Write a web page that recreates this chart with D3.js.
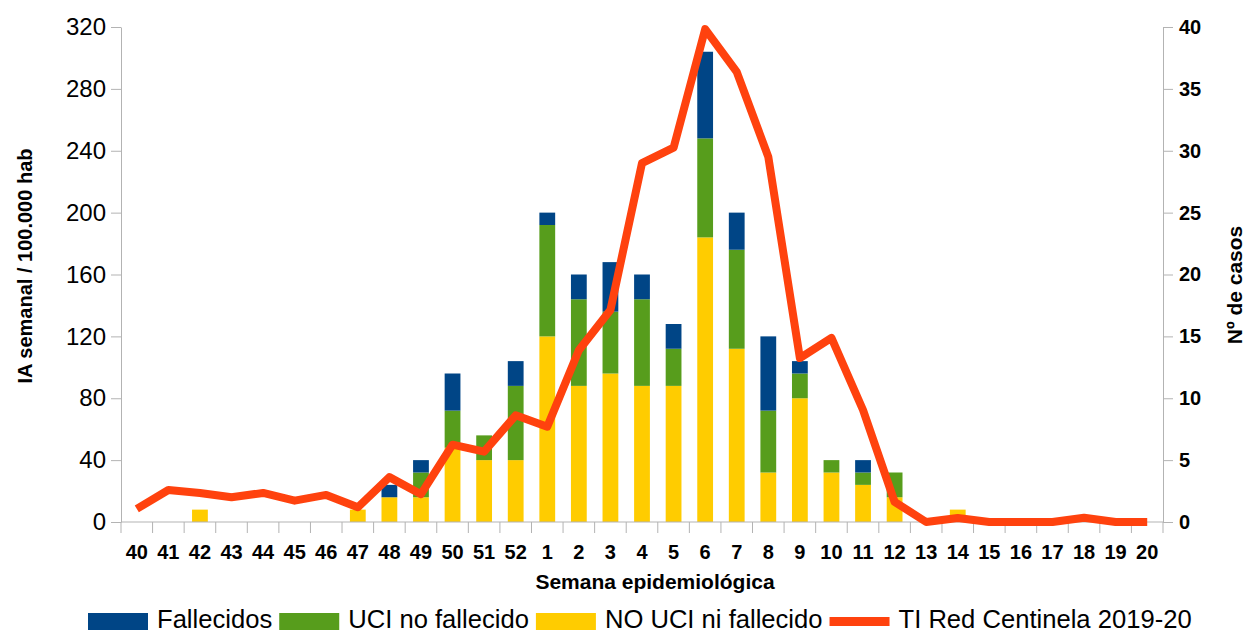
<!DOCTYPE html>
<html>
<head>
<meta charset="utf-8">
<script src="https://cdn.jsdelivr.net/npm/d3@7"></script>
<style>
  body { margin: 0; background: #fff; }
  text { font-family: "Liberation Sans", Arial, sans-serif; }
</style>
</head>
<body>
<svg id="chart" width="1248" height="631"></svg>
<script>
  var semanas = ["40","41","42","43","44","45","46","47","48","49","50","51","52",
    "1","2","3","4","5","6","7","8","9","10","11","12","13","14","15","16","17","18","19","20"];

  // casos (eje derecho)
  var noUci =      [0,0,1,0,0,0,0,1,2,2,6,5,5,15,11,12,11,11,23,14,4,10,4,3,2,0,1,0,0,0,0,0,0];
  var uci =        [0,0,0,0,0,0,0,0,0,2,3,2,6,9,7,5,7,3,8,8,5,2,1,1,2,0,0,0,0,0,0,0,0];
  var fallecidos = [0,0,0,0,0,0,0,0,1,1,3,0,2,1,2,4,2,2,7,3,6,1,0,1,0,0,0,0,0,0,0,0,0];

  // tasa de incidencia (eje izquierdo)
  var tasaIA = [8.5,20.7,18.8,16,18.8,13.8,17.5,9.5,29,18,50,45.5,69,61.6,111,137,232,242,
    318.6,291,236,106,119,72.4,13,0,2.6,0,0,0,2.8,0,0];

  var ticksIzq = [0,40,80,120,160,200,240,280,320];
  var ticksDer = [0,5,10,15,20,25,30,35,40];

  var series = [
    { key: "fallecidos", name: "Fallecidos", color: "#004586" },
    { key: "uci", name: "UCI no fallecido", color: "#579d1c" },
    { key: "noUci", name: "NO UCI ni fallecido", color: "#ffcc00" }
  ];
  var lineColor = "#ff420e";

  var svg = d3.select("#chart"),
    plotLeft = 121, plotRight = 1163, plotTop = 27, plotBottom = 522;

  var x = d3.scaleBand().domain(semanas).range([plotLeft, plotRight])
    .paddingInner(0.5).paddingOuter(0.25);
  var yL = d3.scaleLinear().domain([0, 320]).range([plotBottom, plotTop]);
  var yR = d3.scaleLinear().domain([0, 40]).range([plotBottom, plotTop]);

  var rows = semanas.map(function (s, i) {
    return { semana: s, noUci: noUci[i], uci: uci[i], fallecidos: fallecidos[i] };
  });
  var stacked = d3.stack().keys(["noUci", "uci", "fallecidos"])(rows);
  var colorOf = {};
  series.forEach(function (s) { colorOf[s.key] = s.color; });

  // bars
  svg.append("g")
    .selectAll("g")
    .data(stacked)
    .enter()
    .append("g")
    .style("fill", function (d) { return colorOf[d.key]; })
    .selectAll("rect")
    .data(function (d) { return d; })
    .enter()
    .append("rect")
    .attr("x", function (d) { return x(d.data.semana); })
    .attr("width", x.bandwidth())
    .attr("y", function (d) { return yR(d[1]); })
    .attr("height", function (d) { return yR(d[0]) - yR(d[1]); });

  // axes
  var axisColor = "#b3b3b3";
  var gl = svg.append("g")
    .attr("transform", "translate(" + plotLeft + ",0)")
    .call(d3.axisLeft(yL).tickValues(ticksIzq).tickSize(10).tickSizeOuter(0).tickPadding(5));
  gl.selectAll("text").style("font-size", "24px").style("fill", "#000");

  var gr = svg.append("g")
    .attr("transform", "translate(" + plotRight + ",0)")
    .call(d3.axisRight(yR).tickValues(ticksDer).tickSize(10).tickSizeOuter(0).tickPadding(6));
  gr.selectAll("text").style("font-size", "20px").style("font-weight", "bold").style("fill", "#000");

  [gl, gr].forEach(function (g) {
    g.select(".domain").attr("stroke", axisColor);
    g.selectAll(".tick line").attr("stroke", axisColor);
  });

  // x axis: line, ticks at band edges, labels
  var gx = svg.append("g");
  gx.append("line")
    .attr("x1", plotLeft).attr("x2", plotRight)
    .attr("y1", plotBottom).attr("y2", plotBottom)
    .attr("stroke", axisColor);
  var edges = semanas.map(function (s) { return x(s) - (x.step() - x.bandwidth()) / 2; });
  edges.push(plotRight);
  gx.selectAll(".xt")
    .data(edges)
    .enter()
    .append("line")
    .attr("x1", function (d) { return d; })
    .attr("x2", function (d) { return d; })
    .attr("y1", plotBottom).attr("y2", plotBottom + 11)
    .attr("stroke", axisColor);
  gx.selectAll(".xl")
    .data(semanas)
    .enter()
    .append("text")
    .attr("x", function (d) { return x(d) + x.bandwidth() / 2; })
    .attr("y", 559)
    .attr("text-anchor", "middle")
    .style("font-size", "20px")
    .style("font-weight", "bold")
    .text(function (d) { return d; });

  // line
  var line = d3.line()
    .x(function (d, i) { return x(semanas[i]) + x.bandwidth() / 2; })
    .y(function (d) { return yL(d); });
  svg.append("path")
    .datum(tasaIA)
    .attr("d", line)
    .style("fill", "none")
    .style("stroke", lineColor)
    .style("stroke-width", 8)
    .style("stroke-linejoin", "round");

  // axis titles
  svg.append("text")
    .attr("text-anchor", "middle")
    .attr("transform", "translate(32,266)rotate(-90)")
    .style("font-size", "20px")
    .style("font-weight", "bold")
    .text("IA semanal / 100.000 hab");

  svg.append("text")
    .attr("text-anchor", "middle")
    .attr("transform", "translate(1242,285)rotate(-90)")
    .style("font-size", "21px")
    .style("font-weight", "bold")
    .text("Nº de casos");

  svg.append("text")
    .attr("x", 655)
    .attr("y", 589)
    .attr("text-anchor", "middle")
    .style("font-size", "21px")
    .style("font-weight", "bold")
    .text("Semana epidemiológica");

  // legend
  var legendItems = series.concat([{ key: "linea", name: "TI Red Centinela 2019-20", color: lineColor, line: true }]);
  var legend = svg.append("g");
  var lx = 88;
  legendItems.forEach(function (d) {
    legend.append("rect")
      .attr("x", lx)
      .attr("y", d.line ? 617 : 613)
      .attr("width", 60)
      .attr("height", d.line ? 9 : 17)
      .style("fill", d.color);
    var t = legend.append("text")
      .attr("x", lx + 69)
      .attr("y", 628)
      .style("font-size", "25.6px")
      .text(d.name);
    lx = lx + 69 + t.node().getComputedTextLength() + 7;
  });
</script>
</body>
</html>
